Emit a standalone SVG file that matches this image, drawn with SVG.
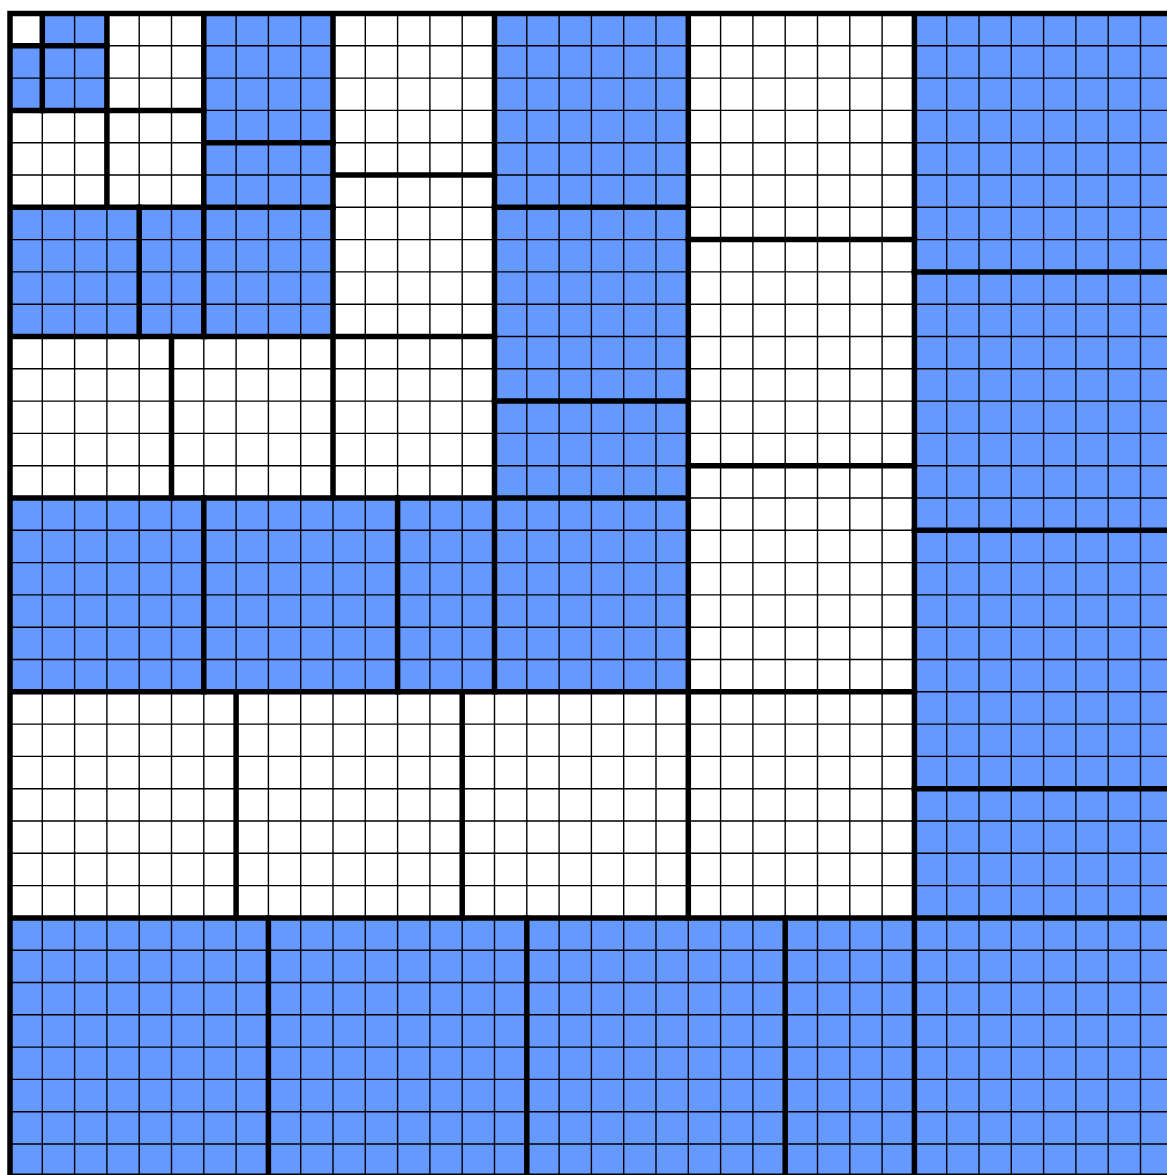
<svg xmlns="http://www.w3.org/2000/svg" width="1167" height="1175" viewBox="0 0 1167 1175">
<style>
.blue{fill:#6699FF;stroke:none}
.thin{fill:none;stroke:#000;stroke-width:1.4}
.thick{fill:none;stroke:#000;stroke-width:5.5;stroke-linecap:square}
</style>
<rect x="0" y="0" width="1167" height="1175" fill="#fff"/>
<g transform="translate(10,13.5) scale(32.3)">
<g id="fills">
<path class="blue" d="M1 0H3V3H0V1H1Z"/>
<path class="blue" d="M6 0H10V10H0V6H6Z"/>
<path class="blue" d="M15 0H21V21H0V15H15Z"/>
<path class="blue" d="M28 0H36V36H0V28H28Z"/>
</g>
<g id="grid">
<path class="thin" vector-effect="non-scaling-stroke" d="M0 1H36M0 2H36M0 3H36M0 4H36M0 5H36M0 6H36M0 7H36M0 8H36M0 9H36M0 10H36M0 11H36M0 12H36M0 13H36M0 14H36M0 15H36M0 16H36M0 17H36M0 18H36M0 19H36M0 20H36M0 21H36M0 22H36M0 23H36M0 24H36M0 25H36M0 26H36M0 27H36M0 28H36M0 29H36M0 30H36M0 31H36M0 32H36M0 33H36M0 34H36M0 35H36M0 36H36M1 0V36M2 0V36M3 0V36M4 0V36M5 0V36M6 0V36M7 0V36M8 0V36M9 0V36M10 0V36M11 0V36M12 0V36M13 0V36M14 0V36M15 0V36M16 0V36M17 0V36M18 0V36M19 0V36M20 0V36M21 0V36M22 0V36M23 0V36M24 0V36M25 0V36M26 0V36M27 0V36M28 0V36M29 0V36M30 0V36M31 0V36M32 0V36M33 0V36M34 0V36M35 0V36M36 0V36"/>
</g>
<g id="borders">
<path class="thick" vector-effect="non-scaling-stroke" d="M0 0H36M0 0V36M1 0V1H0M3 0V3H0M6 0V6H0M10 0V10H0M15 0V15H0M21 0V21H0M28 0V28H0M36 0V36H0"/>
<path class="thick" vector-effect="non-scaling-stroke" d="M1 1H3M1 1V3M3 3H6M3 3V6M6 4H10M6 6H10M4 6V10M6 6V10M10 5H15M10 10H15M5 10V15M10 10V15M15 6H21M15 12H21M15 15H21M6 15V21M12 15V21M15 15V21M21 7H28M21 14H28M21 21H28M7 21V28M14 21V28M21 21V28M28 8H36M28 16H36M28 24H36M28 28H36M8 28V36M16 28V36M24 28V36M28 28V36"/>
</g>
</g>
</svg>
